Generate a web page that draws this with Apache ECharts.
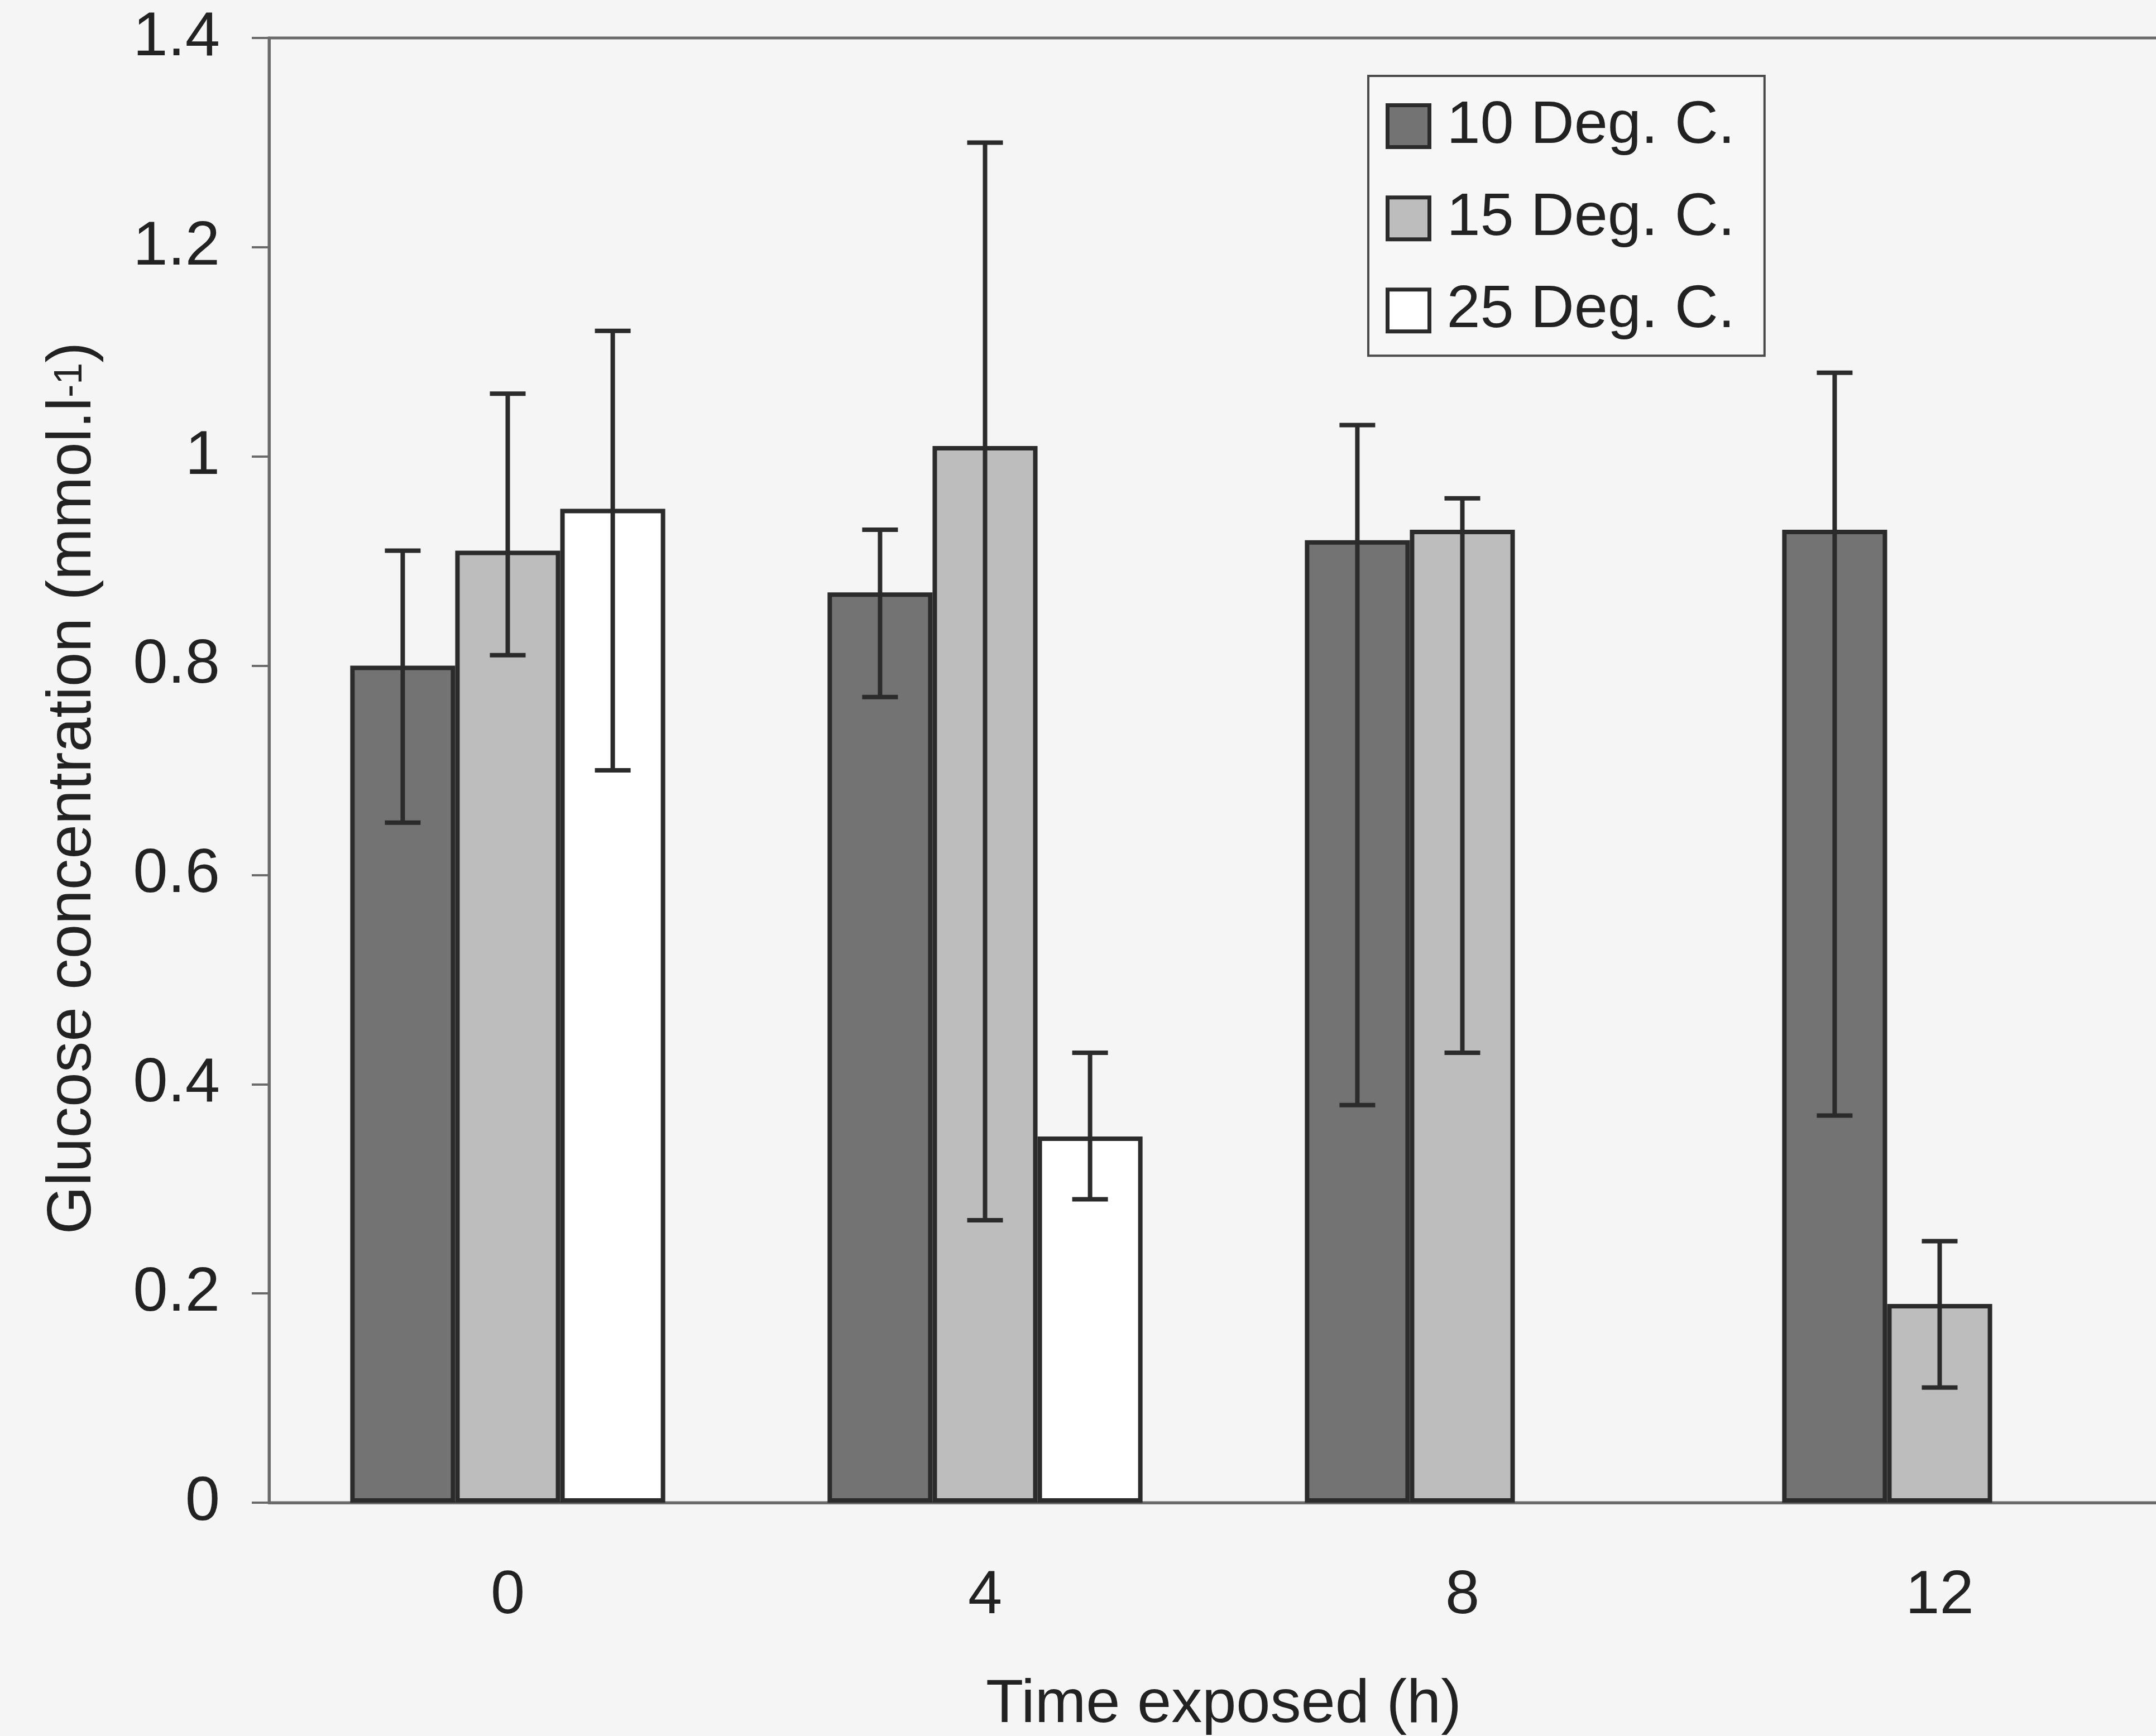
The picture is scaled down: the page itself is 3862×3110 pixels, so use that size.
<!DOCTYPE html>
<html>
<head>
    <title>Glucose concentration vs time exposed</title>
    <script src="https://cdn.jsdelivr.net/npm/echarts/dist/echarts.min.js"></script>
    <style>
        body { margin: 0; background: #f5f5f5; }
    </style>
</head>
<body>
    <div id="main" style="width: 3862px;height:3110px;"></div>
    <script type="text/javascript">
        // values
        var hours = ['0', '4', '8', '12'];
        var seriesNames = ['10 Deg. C.', '15 Deg. C.', '25 Deg. C.'];
        var mean10 = [0.80, 0.87, 0.92, 0.93];
        var mean15 = [0.91, 1.01, 0.93, 0.19];
        var mean25 = [0.95, 0.35, null, null];
        var low10 = [0.65, 0.77, 0.38, 0.37];
        var high10 = [0.91, 0.93, 1.03, 1.08];
        var low15 = [0.81, 0.27, 0.43, 0.11];
        var high15 = [1.06, 1.30, 0.96, 0.25];
        var low25 = [0.70, 0.29, null, null];
        var high25 = [1.12, 0.43, null, null];
        var yTicks = [0, 0.2, 0.4, 0.6, 0.8, 1, 1.2, 1.4];

        var fills = ['#737373', '#bdbdbd', '#ffffff'];
        var means = [mean10, mean15, mean25];
        var lows = [low10, low15, low25];
        var highs = [high10, high15, high25];
        var catGap = 0.34;
        var font = 'Liberation Sans, Arial, sans-serif';

        var myChart = echarts.init(document.getElementById('main'));

        function errorRender(k) {
            return function (params, api) {
                var cat = api.value(0);
                var top = api.coord([cat, api.value(2)]);
                var bot = api.coord([cat, api.value(1)]);
                var band = api.size([1, 0])[0];
                var barW = band * (1 - catGap) / 3;
                var x = top[0] + (k - 1) * barW;
                var half = 32;
                var st = { stroke: '#2b2b2b', lineWidth: 8 };
                return {
                    type: 'group',
                    children: [
                        { type: 'line', shape: { x1: x, y1: top[1], x2: x, y2: bot[1] }, style: st },
                        { type: 'line', shape: { x1: x - half, y1: top[1], x2: x + half, y2: top[1] }, style: st },
                        { type: 'line', shape: { x1: x - half, y1: bot[1], x2: x + half, y2: bot[1] }, style: st }
                    ]
                };
            };
        }

        var series = [];
        for (var k = 0; k < 3; k++) {
            series.push({
                name: seriesNames[k],
                type: 'bar',
                data: means[k].map(function (v) { return v === null ? '-' : v; }),
                barGap: '0%',
                barCategoryGap: (catGap * 100) + '%',
                itemStyle: { color: fills[k], borderColor: '#2b2b2b', borderWidth: 8 },
                animation: false
            });
        }
        for (var k2 = 0; k2 < 3; k2++) {
            var errData = [];
            for (var i = 0; i < hours.length; i++) {
                if (lows[k2][i] !== null) {
                    errData.push([i, lows[k2][i], highs[k2][i]]);
                }
            }
            series.push({
                type: 'custom',
                renderItem: errorRender(k2),
                encode: { x: 0, y: [1, 2] },
                data: errData,
                z: 10,
                animation: false
            });
        }

        var option = {
            backgroundColor: '#f5f5f5',
            textStyle: { fontFamily: font, color: '#222' },
            grid: {
                left: 482, right: -40, top: 68, bottom: 418,
                containLabel: false,
                outerBoundsMode: 'none',
                show: true, borderColor: '#6a6a6a', borderWidth: 5,
                backgroundColor: 'transparent'
            },
            legend: {
                data: seriesNames,
                orient: 'vertical',
                left: 2451, top: 136,
                padding: [-3, 53, -12, 31],
                itemWidth: 75, itemHeight: 75, itemGap: -21,
                icon: 'rect',
                borderColor: '#4a4a4a', borderWidth: 4,
                backgroundColor: '#f7f7f7',
                itemStyle: { borderWidth: 7, borderColor: '#2b2b2b' },
                formatter: function (name) { return '{g|}' + name; },
                textStyle: {
                    fontFamily: font, fontSize: 108, color: '#222',
                    rich: { g: { width: 26 } }
                }
            },
            xAxis: {
                type: 'category',
                data: hours,
                name: 'Time exposed (h)',
                nameLocation: 'middle',
                nameGap: 232,
                nameTextStyle: { fontFamily: font, fontSize: 110, color: '#222' },
                axisLine: { lineStyle: { color: '#6a6a6a', width: 5 } },
                axisTick: { length: 33, lineStyle: { color: '#6a6a6a', width: 4 } },
                axisLabel: { fontFamily: font, fontSize: 110, color: '#222', margin: 73 }
            },
            yAxis: {
                type: 'value',
                min: yTicks[0], max: yTicks[yTicks.length - 1], interval: 0.2,
                name: '{t|Glucose concentration (mmol.l}{s|-1}{t|)}',
                nameLocation: 'middle',
                nameGap: 280,
                nameTextStyle: {
                    fontFamily: font, color: '#222',
                    padding: [0, 64, 0, 0],
                    rich: {
                        t: { fontFamily: font, fontSize: 111, color: '#222', lineHeight: 130 },
                        s: { fontFamily: font, fontSize: 70, color: '#222', verticalAlign: 'top', lineHeight: 80 }
                    }
                },
                splitLine: { show: false },
                axisLine: { show: true, lineStyle: { color: '#6a6a6a', width: 5 } },
                axisTick: { show: true, length: 31, lineStyle: { color: '#6a6a6a', width: 4 } },
                axisLabel: { fontFamily: font, fontSize: 112, color: '#222', margin: 88 }
            },
            series: series
        };

        myChart.setOption(option);
    </script>
</body>
</html>
